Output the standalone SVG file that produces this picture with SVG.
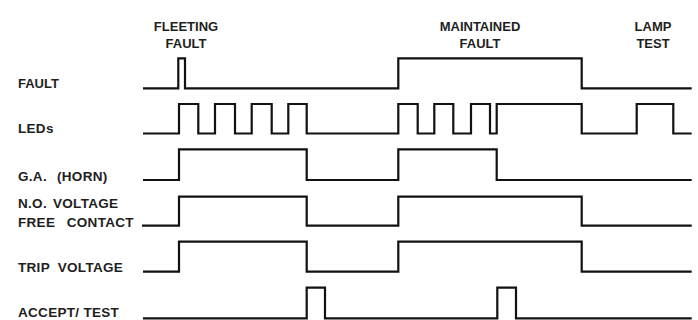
<svg xmlns="http://www.w3.org/2000/svg" width="698" height="320" viewBox="0 0 698 320">
<style>
text{font-family:"Liberation Sans",Arial,sans-serif;font-weight:bold;font-size:13px;fill:#1e1e1e}
.h{text-anchor:middle}
.l{font-size:13.5px;letter-spacing:0.3px}
.w{fill:none;stroke:#111;stroke-width:2.2;stroke-linejoin:miter;stroke-linecap:butt}
</style>
<rect width="698" height="320" fill="#fff"/>
<g id="headers">
<text class="h" x="186" y="30.5">FLEETING</text>
<text class="h" x="186" y="47.5">FAULT</text>
<text class="h" x="480" y="30.5">MAINTAINED</text>
<text class="h" x="480" y="47.5">FAULT</text>
<text class="h" x="653" y="30.5">LAMP</text>
<text class="h" x="653" y="47.5">TEST</text>
</g>
<g id="fault">
<text x="18" y="88.3">FAULT</text>
<path class="w" d="M143,88.3 H178.3 V58.3 H185 V88.3 H398.3 V58.3 H581.7 V88.3 H691.7"/>
</g>
<g id="leds">
<text class="l" x="18" y="133.3">LEDs</text>
<path class="w" d="M143,133.5 H179 V104 H198.3 V133.5 H215 V104 H235 V133.5 H251.7 V104 H271.7 V133.5 H288.3 V104 H306.7 V133.5 H398.3 V104 H417.7 V133.5 H434.3 V104 H453.3 V133.5 H471 V104 H490 V133.5 H496.7 V104 H581.7 V133.5 H636.7 V104 H673.3 V133.5 H691.7"/>
</g>
<g id="ga-horn">
<text class="l" x="18" y="180.5" word-spacing="6">G.A. (HORN)</text>
<path class="w" d="M143,180 H179 V149.3 H306.7 V180 H398.3 V149.3 H496.7 V180 H691.7"/>
</g>
<g id="no-contact">
<text class="l" x="18" y="208" word-spacing="2">N.O. VOLTAGE</text>
<text class="l" x="18" y="227" word-spacing="7.5">FREE CONTACT</text>
<path class="w" d="M142,225.7 H179 V196.7 H306.7 V225.7 H398.3 V196.7 H581.7 V225.7 H691.7"/>
</g>
<g id="trip-voltage">
<text class="l" x="18" y="272.3" word-spacing="4">TRIP VOLTAGE</text>
<path class="w" d="M143,271.7 H179 V241.7 H306.7 V271.7 H398.3 V241.7 H581.7 V271.7 H691.7"/>
</g>
<g id="accept-test">
<text class="l" x="18" y="317" word-spacing="0">ACCEPT/ TEST</text>
<path class="w" d="M143,318.3 H306.7 V287.7 H325 V318.3 H497.3 V287.7 H516 V318.3 H691.7"/>
</g>
<g id="connectors"/>
</svg>
